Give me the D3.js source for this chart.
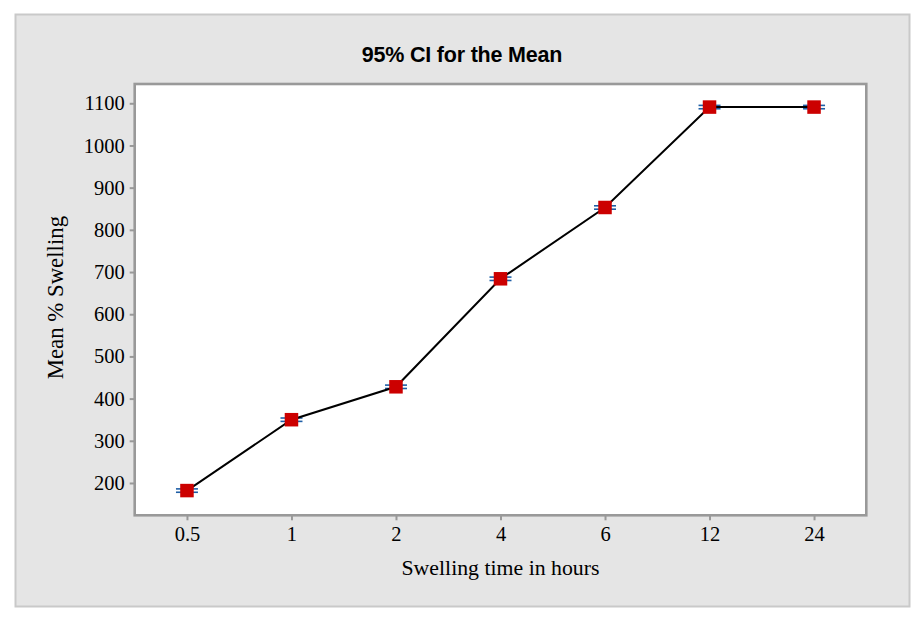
<!DOCTYPE html>
<html>
<head>
<meta charset="utf-8">
<script src="https://cdn.jsdelivr.net/npm/d3@7"></script>
<style>
  html, body { margin: 0; padding: 0; background: #ffffff; }
  svg { display: block; }
</style>
</head>
<body>
<svg id="chart" width="922" height="620"></svg>
<script>
const categories = ["0.5", "1", "2", "4", "6", "12", "24"];
const meanValues = [182, 350, 428, 684, 853, 1091, 1091];
const ciLower = [178, 346, 424, 680, 849, 1087, 1087];
const ciUpper = [186, 354, 432, 688, 857, 1095, 1095];
const yTicks = [200, 300, 400, 500, 600, 700, 800, 900, 1000, 1100];
const titleText = "95% CI for the Mean";
const xTitle = "Swelling time in hours";
const yTitle = "Mean % Swelling";

const svg = d3.select("#chart");

// outer panel
svg.append("rect")
  .attr("x", 15.5).attr("y", 14.5).attr("width", 894).attr("height", 592)
  .attr("fill", "#e5e5e5").attr("stroke", "#c9c9c9").attr("stroke-width", 2);

const plot = { left: 134.7, right: 866.3, top: 84, bottom: 515.3 };

const x = d3.scalePoint().domain(categories).range([plot.left, plot.right]).padding(0.5);
const y = d3.scaleLinear().domain([123.4, 1145.7]).range([plot.bottom, plot.top]);

// plot area
svg.append("rect")
  .attr("x", plot.left).attr("y", plot.top)
  .attr("width", plot.right - plot.left).attr("height", plot.bottom - plot.top)
  .attr("fill", "#ffffff");

// title
svg.append("text")
  .attr("x", 462).attr("y", 62)
  .attr("text-anchor", "middle")
  .attr("font-family", "Liberation Sans, Arial, sans-serif")
  .attr("font-size", 21.5)
  .attr("font-weight", "bold")
  .attr("letter-spacing", -0.2)
  .attr("fill", "#000")
  .text(titleText);

// axes
const yAxis = d3.axisLeft(y).tickValues(yTicks).tickSize(5).tickPadding(5).tickFormat(d3.format("d"));
const xAxis = d3.axisBottom(x).tickSize(5).tickPadding(6);

const gy = svg.append("g").attr("transform", `translate(${plot.left},0)`).call(yAxis);
const gx = svg.append("g").attr("transform", `translate(0,${plot.bottom})`).call(xAxis);

[gx, gy].forEach(g => {
  g.select(".domain").remove();
  g.selectAll(".tick line").attr("stroke", "#999").attr("stroke-width", 2);
  g.selectAll(".tick text")
    .attr("font-family", "Liberation Serif, Times New Roman, serif")
    .attr("font-size", 20.5)
    .attr("fill", "#000");
});
gx.selectAll(".tick text").attr("dy", "0.71em");

// plot border
svg.append("rect")
  .attr("x", plot.left).attr("y", plot.top)
  .attr("width", plot.right - plot.left).attr("height", plot.bottom - plot.top)
  .attr("fill", "none").attr("stroke", "#999999").attr("stroke-width", 2.6);

// axis titles
svg.append("text")
  .attr("x", (plot.left + plot.right) / 2).attr("y", 575)
  .attr("text-anchor", "middle")
  .attr("font-family", "Liberation Serif, Times New Roman, serif")
  .attr("font-size", 21.8)
  .attr("fill", "#000")
  .text(xTitle);

svg.append("text")
  .attr("transform", `translate(63,${(plot.top + plot.bottom) / 2 - 2}) rotate(-90)`)
  .attr("text-anchor", "middle")
  .attr("font-family", "Liberation Serif, Times New Roman, serif")
  .attr("font-size", 22.8)
  .attr("fill", "#000")
  .text(yTitle);

// data
const data = categories.map((c, i) => ({ c, m: meanValues[i], lo: ciLower[i], hi: ciUpper[i] }));

// CI caps
const capHalf = 11;
const ci = svg.append("g");
data.forEach(d => {
  [d.lo, d.hi].forEach(v => {
    ci.append("line")
      .attr("x1", x(d.c) - capHalf).attr("x2", x(d.c) + capHalf)
      .attr("y1", y(v)).attr("y2", y(v))
      .attr("stroke", "#1f5fa6").attr("stroke-width", 1.6);
  });
});

// connect line
svg.append("path")
  .datum(data)
  .attr("fill", "none").attr("stroke", "#000").attr("stroke-width", 2)
  .attr("d", d3.line().x(d => x(d.c)).y(d => y(d.m)));

// markers
const ms = 13.5;
svg.append("g").selectAll("rect").data(data).join("rect")
  .attr("x", d => x(d.c) - ms / 2).attr("y", d => y(d.m) - ms / 2)
  .attr("width", ms).attr("height", ms)
  .attr("fill", "#cc0000");
</script>
</body>
</html>
